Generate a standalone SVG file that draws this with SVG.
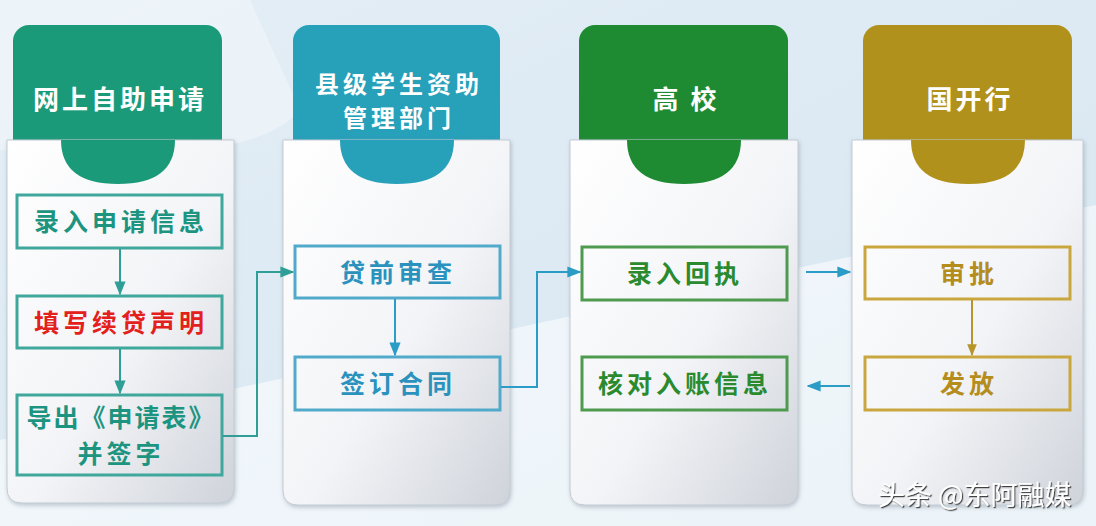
<svg xmlns="http://www.w3.org/2000/svg" width="1096" height="526" viewBox="0 0 1096 526">
<defs>
<linearGradient id="bg" x1="0" y1="0" x2="1" y2="1">
<stop offset="0" stop-color="#e4eef6"/>
<stop offset="1" stop-color="#d6e6f1"/>
</linearGradient>
<linearGradient id="card" x1="0" y1="0" x2="1" y2="1">
<stop offset="0" stop-color="#ffffff"/>
<stop offset="0.55" stop-color="#f3f4f7"/>
<stop offset="1" stop-color="#cfd3da"/>
</linearGradient>
<filter id="sh" x="-10%" y="-10%" width="120%" height="120%">
<feDropShadow dx="1" dy="2" stdDeviation="2" flood-color="#7f8b99" flood-opacity="0.45"/>
</filter>
<filter id="tsh" x="-10%" y="-20%" width="120%" height="140%">
<feDropShadow dx="1.2" dy="1.2" stdDeviation="0.3" flood-color="#333" flood-opacity="0.9"/>
</filter>
<marker id="aTeal" viewBox="0 0 10 10" refX="9" refY="5" markerWidth="7" markerHeight="7" orient="auto">
<path d="M0,1 L10,5 L0,9 Z" fill="#2f9e96"/>
</marker>
<marker id="aBlue" viewBox="0 0 10 10" refX="9" refY="5" markerWidth="7" markerHeight="7" orient="auto">
<path d="M0,1 L10,5 L0,9 Z" fill="#2a9cc6"/>
</marker>
<marker id="aGold" viewBox="0 0 10 10" refX="9" refY="5" markerWidth="6" markerHeight="6" orient="auto">
<path d="M0,1 L10,5 L0,9 Z" fill="#b8952a"/>
</marker>
</defs>
<style>
.hdr{font-family:"Noto Sans CJK SC",sans-serif;font-weight:700;fill:#ffffff;text-anchor:middle;font-size:26px;letter-spacing:3px}
.hdr2{font-family:"Noto Sans CJK SC",sans-serif;font-weight:700;fill:#ffffff;text-anchor:middle;font-size:24px;letter-spacing:4px}
.bt{font-family:"Noto Sans CJK SC",sans-serif;font-weight:700;text-anchor:middle;font-size:25px;letter-spacing:4px}
.box{fill:none;stroke-width:3}
.card{fill:url(#card);stroke:#c3cbd4;stroke-width:1}
.ln{fill:none;stroke-width:2}
</style>

<rect width="1096" height="526" fill="url(#bg)"/>
<path d="M0,0 H250 L300,110 Q250,170 0,150 Z" fill="#ffffff" opacity="0.35"/>
<path d="M0,440 Q500,330 1096,205 V526 H0 Z" fill="#ffffff" opacity="0.55"/>

<!-- Column 1 -->
<g id="col1">
<rect x="13" y="25" width="209" height="135" rx="16" fill="#1b9a7a"/>
<path class="card" d="M7,140 H234 V488 Q234,503 219,503 H22 Q7,503 7,488 Z" filter="url(#sh)"/>
<path d="M61,140 Q61,184 118,184 Q175,184 175,140 Z" fill="#1b9a7a"/>
<text class="hdr" x="120" y="109">网上自助申请</text>
</g>
<g id="n1a"><rect class="box" x="17" y="195" width="205" height="53" stroke="#3fa79c"/><text class="bt" x="121" y="231" fill="#1d9480">录入申请信息</text></g>
<g id="n1b"><rect class="box" x="17" y="296" width="205" height="52" stroke="#3fa79c"/><text class="bt" x="121" y="332" fill="#e3201b">填写续贷声明</text></g>
<g id="n1c"><rect class="box" x="17" y="395" width="205" height="80" stroke="#3fa79c"/><text class="bt" x="121" y="427" fill="#1d9480" style="letter-spacing:2px">导出《申请表》</text><text class="bt" x="121" y="463" fill="#1d9480">并签字</text></g>

<!-- Column 2 -->
<g id="col2">
<rect x="293" y="25" width="207" height="135" rx="16" fill="#27a0b9"/>
<path class="card" d="M283,140 H510 V490 Q510,505 495,505 H298 Q283,505 283,490 Z" filter="url(#sh)"/>
<path d="M340,140 Q340,184 397,184 Q454,184 454,140 Z" fill="#27a0b9"/>
<text class="hdr2" x="399" y="93">县级学生资助</text>
<text class="hdr2" x="399" y="127">管理部门</text>
</g>
<g id="n2a"><rect class="box" x="295" y="246" width="205" height="52" stroke="#52aacb"/><text class="bt" x="398" y="282" fill="#2a92bd">贷前审查</text></g>
<g id="n2b"><rect class="box" x="295" y="357" width="205" height="53" stroke="#52aacb"/><text class="bt" x="398" y="393" fill="#2a92bd">签订合同</text></g>

<!-- Column 3 -->
<g id="col3">
<rect x="579" y="25" width="209" height="135" rx="16" fill="#1e8b33"/>
<path class="card" d="M570,140 H798 V490 Q798,505 783,505 H585 Q570,505 570,490 Z" filter="url(#sh)"/>
<path d="M627,140 Q627,184 684,184 Q741,184 741,140 Z" fill="#1e8b33"/>
<text class="hdr" x="686" y="109">高 校</text>
</g>
<g id="n3a"><rect class="box" x="582" y="247" width="205" height="53" stroke="#4e9a4e"/><text class="bt" x="685" y="283" fill="#2b8a2e">录入回执</text></g>
<g id="n3b"><rect class="box" x="582" y="357" width="205" height="53" stroke="#4e9a4e"/><text class="bt" x="685" y="393" fill="#2b8a2e">核对入账信息</text></g>

<!-- Column 4 -->
<g id="col4">
<rect x="863" y="25" width="209" height="135" rx="16" fill="#b0911b"/>
<path class="card" d="M852,140 H1083 V490 Q1083,505 1068,505 H867 Q852,505 852,490 Z" filter="url(#sh)"/>
<path d="M911,140 Q911,184 968,184 Q1025,184 1025,140 Z" fill="#b0911b"/>
<text class="hdr" x="970" y="109">国开行</text>
</g>
<g id="n4a"><rect class="box" x="865" y="247" width="205" height="52" stroke="#c9a73e"/><text class="bt" x="969" y="283" fill="#b48d1c">审批</text></g>
<g id="n4b"><rect class="box" x="865" y="357" width="205" height="53" stroke="#c9a73e"/><text class="bt" x="969" y="393" fill="#b48d1c">发放</text></g>

<!-- Connectors -->
<g id="connectors">
<path class="ln" d="M120,249 V294" stroke="#2f9e96" marker-end="url(#aTeal)"/>
<path class="ln" d="M120,349 V393" stroke="#2f9e96" marker-end="url(#aTeal)"/>
<path class="ln" d="M223,436 H257 V272 H293" stroke="#2f9e96" marker-end="url(#aTeal)"/>
<path class="ln" d="M395,299 V355" stroke="#2a9cc6" marker-end="url(#aBlue)"/>
<path class="ln" d="M501,387 H537 V272 H580" stroke="#2a9cc6" marker-end="url(#aBlue)"/>
<path class="ln" d="M806,272 H850" stroke="#2a9cc6" marker-end="url(#aBlue)"/>
<path class="ln" d="M850,386 H808" stroke="#2a9cc6" marker-end="url(#aBlue)"/>
<path class="ln" d="M972,300 V355" stroke="#b8952a" marker-end="url(#aGold)"/>
</g>

<text x="878" y="505" font-family="'Noto Sans CJK SC',sans-serif" font-size="27" fill="#ffffff" filter="url(#tsh)">头条 @东阿融媒</text>
</svg>
